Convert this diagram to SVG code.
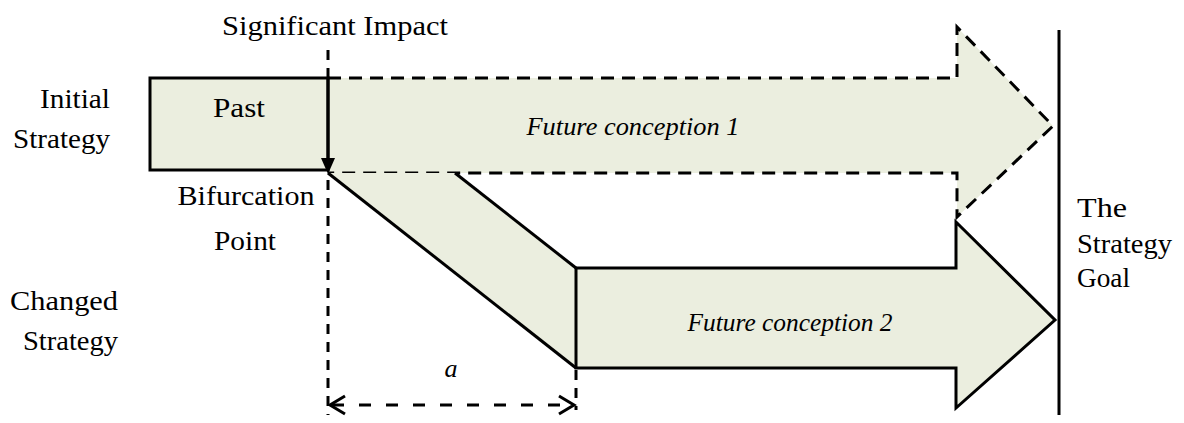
<svg xmlns="http://www.w3.org/2000/svg" width="1184" height="423" viewBox="0 0 1184 423">
<defs>
<style>
.fill{fill:#ebeedf;stroke:none}
.solid{fill:none;stroke:#000;stroke-width:3;stroke-linejoin:miter}
.dash{fill:none;stroke:#000;stroke-width:3;stroke-dasharray:13 8}
.vdash{fill:none;stroke:#000;stroke-width:3;stroke-dasharray:10 8}
.ddash{fill:none;stroke:#000;stroke-width:3;stroke-dasharray:12 15}
</style>
</defs>

<g font-family="Liberation Serif, Tinos, Times New Roman, DejaVu Serif, Noto Serif, serif" font-size="28" fill="#000">

<g id="future1">
<path class="fill" d="M328,78 L957,78 L957,27 L1053,126 L957,217 L957,173 L328,173 Z"/>
<path class="dash" d="M328,78 L957,78 L957,27 L1053,126 L957,217 L957,173 L328,173"/>
<text font-style="italic" font-size="26" x="633" y="135" text-anchor="middle" textLength="213" lengthAdjust="spacingAndGlyphs">Future conception 1</text>
</g>

<g id="past">
<rect x="150" y="78" width="178" height="92" fill="#ebeedf" stroke="#000" stroke-width="3"/>
<text x="239" y="117" text-anchor="middle" textLength="52" lengthAdjust="spacingAndGlyphs">Past</text>
</g>

<g id="transition">
<path class="fill" d="M328,173 L455,173 L576,268 L576,368 Z"/>
<path class="solid" d="M328,173 L576,368"/>
<path class="solid" d="M455,173 L576,268"/>
</g>

<g id="future2">
<path d="M576,268 L956,268 L956,222 L1055,320 L956,408 L956,368 L576,368 Z" fill="#ebeedf" stroke="#000" stroke-width="3"/>
<text font-style="italic" font-size="26" x="790" y="331" text-anchor="middle" textLength="205" lengthAdjust="spacingAndGlyphs">Future conception 2</text>
</g>

<g id="goal">
<path class="solid" d="M1059,30 L1059,415"/>
<text x="1077" y="217" textLength="50" lengthAdjust="spacingAndGlyphs">The</text>
<text x="1077" y="253" textLength="95" lengthAdjust="spacingAndGlyphs">Strategy</text>
<text x="1077" y="287" textLength="53" lengthAdjust="spacingAndGlyphs">Goal</text>
</g>

<g id="labels">
<text x="335" y="35" text-anchor="middle" textLength="226" lengthAdjust="spacingAndGlyphs">Significant Impact</text>
<text x="110" y="108" text-anchor="end" textLength="70" lengthAdjust="spacingAndGlyphs">Initial</text>
<text x="110" y="148" text-anchor="end" textLength="97" lengthAdjust="spacingAndGlyphs">Strategy</text>
<text x="118" y="310" text-anchor="end" textLength="108" lengthAdjust="spacingAndGlyphs">Changed</text>
<text x="118" y="350" text-anchor="end" textLength="95" lengthAdjust="spacingAndGlyphs">Strategy</text>
<text x="246" y="205" text-anchor="middle" textLength="137" lengthAdjust="spacingAndGlyphs">Bifurcation</text>
<text x="245" y="250" text-anchor="middle" textLength="62" lengthAdjust="spacingAndGlyphs">Point</text>
<text font-style="italic" font-size="26" x="451" y="377" text-anchor="middle">a</text>
</g>

</g>

<g id="connectors">
<path class="vdash" d="M328,50 L328,78"/>
<path class="solid" d="M328,78 L328,160"/>
<path d="M321,158 L335,158 L328,174 Z" fill="#000"/>
<path class="vdash" d="M328,180 L328,415"/>
<path class="vdash" d="M576,370 L576,410"/>
<path class="ddash" d="M332,405 L572,405"/>
<path class="solid" d="M345,396 L330,405 L345,414"/>
<path class="solid" d="M559,396 L574,405 L559,414"/>
</g>
</svg>
